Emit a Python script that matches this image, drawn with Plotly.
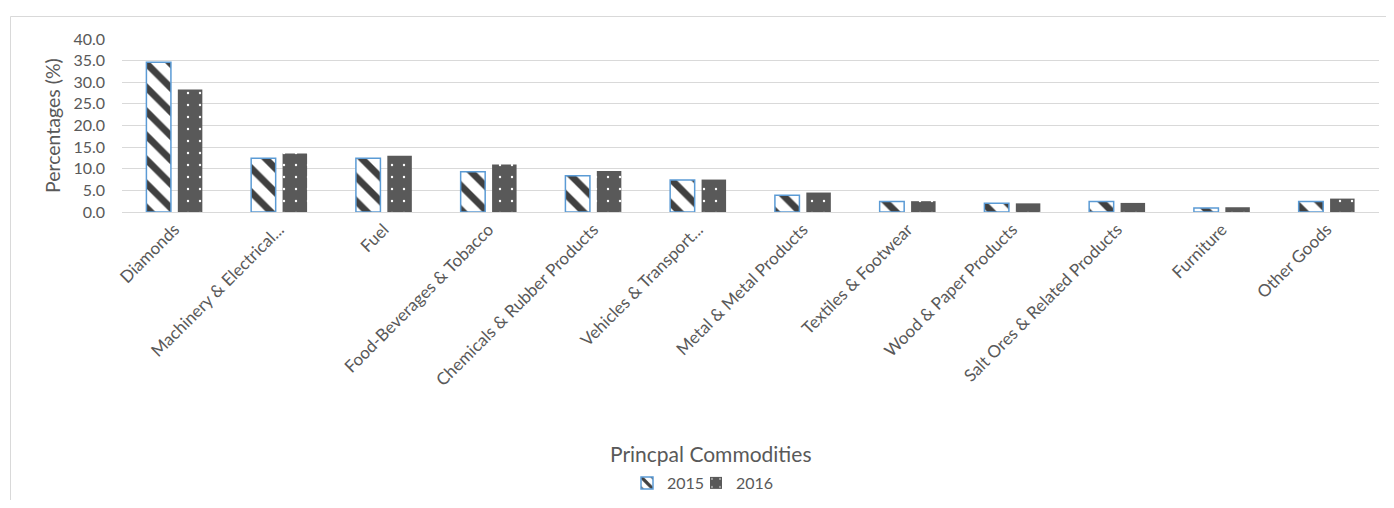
import plotly.graph_objects as go

categories = ["Diamonds", "Machinery & Electrical...", "Fuel", "Food-Beverages & Tobacco",
              "Chemicals & Rubber Products", "Vehicles & Transport...", "Metal & Metal Products",
              "Textiles & Footwear", "Wood & Paper Products", "Salt Ores & Related Products",
              "Furniture", "Other Goods"]
values_2015 = [34.6, 12.4, 12.4, 9.3, 8.4, 7.4, 3.9, 2.4, 2.0, 2.4, 0.9, 2.4]
values_2016 = [28.3, 13.5, 13.0, 11.0, 9.5, 7.5, 4.5, 2.5, 2.0, 2.1, 1.1, 3.1]
y_ticks = [0, 5, 10, 15, 20, 25, 30, 35, 40]

FONT = "Lato"
TXT = "#595959"

fig = go.Figure()
fig.add_trace(go.Bar(
    x=categories, y=values_2015, name="2015", legend="legend",
    marker=dict(color="white", line=dict(color="#5B9BD5", width=1.5),
                pattern=dict(shape="\\", fgcolor="#404040", bgcolor="white",
                             size=17, solidity=0.4, fillmode="replace")),
))
fig.add_trace(go.Bar(
    x=categories, y=values_2016, name="2016", legend="legend2",
    marker=dict(color="#595959", line=dict(width=0),
                pattern=dict(shape=".", fgcolor="white", bgcolor="#595959",
                             size=12, solidity=0.03, fillmode="replace")),
))

# page body has an 8px margin; figure coordinates = reference coordinates - 8
OFF = 8
W, H = 1378, 492
L, T = 122 - OFF, 39 - OFF
R = W - (1379 - OFF)
B = H - (212 - OFF)
pw = W - L - R
ph = H - T - B

def px_x(x):
    return (x - OFF - L) / pw

def px_y(y):
    return 1 - (y - OFF - T) / ph

leg_common = dict(orientation="h", y=px_y(483), yanchor="middle",
                  font=dict(family=FONT, size=16, color=TXT), itemwidth=30,
                  bgcolor="rgba(0,0,0,0)")

fig.update_layout(
    width=W, height=H,
    margin=dict(l=L, r=R, t=T, b=B, autoexpand=False),
    paper_bgcolor="white", plot_bgcolor="white",
    barmode="group", bargap=0.4, bargroupgap=0.22,
    font=dict(family=FONT, color=TXT, size=16),
    showlegend=True,
    legend=dict(x=px_x(710), xanchor="right", **leg_common),
    legend2=dict(x=px_x(696), xanchor="left", **leg_common),
    xaxis=dict(tickangle=-45, showgrid=False, showline=True, linecolor="#D9D9D9", linewidth=1,
               ticks="", tickfont=dict(family=FONT, size=17, color=TXT)),
    yaxis=dict(range=[0, 40], tickvals=y_ticks, tickformat=".1f", showgrid=True,
               gridcolor="#D9D9D9", gridwidth=1, zeroline=False, showline=False, ticks="",
               ticklabelstandoff=16,
               tickfont=dict(family=FONT, size=16, color=TXT)),
    annotations=[
        dict(text="Princpal Commodities", xref="paper", yref="paper",
             x=px_x(710), y=px_y(453), xanchor="center", yanchor="middle",
             showarrow=False, font=dict(family=FONT, size=21, color=TXT)),
        dict(text="Percentages (%)", xref="paper", yref="paper", textangle=-90,
             x=px_x(52), y=px_y(126), xanchor="center", yanchor="middle",
             showarrow=False, font=dict(family=FONT, size=19.5, color=TXT)),
    ],
    shapes=[dict(type="rect", xref="paper", yref="paper",
                 x0=px_x(10.5), x1=px_x(1420), y0=px_y(540), y1=px_y(16.5),
                 line=dict(color="#D9D9D9", width=1), fillcolor="rgba(0,0,0,0)", layer="below")],
)

fig.write_html("out.html")
